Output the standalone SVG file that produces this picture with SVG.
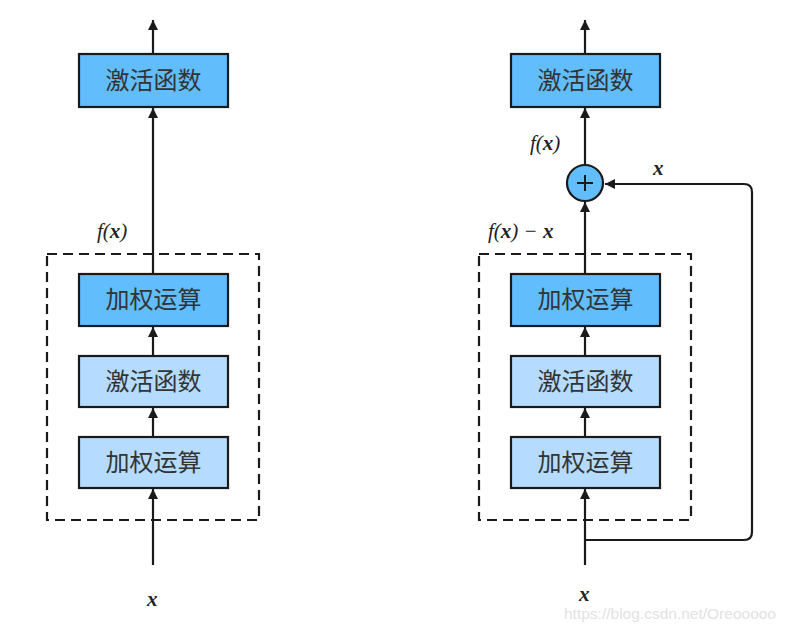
<svg xmlns="http://www.w3.org/2000/svg" width="788" height="626" viewBox="0 0 788 626">
<style>
.dark{fill:#62bdfd;stroke:#1a1a1a;stroke-width:2.2}
.light{fill:#b5dcff;stroke:#1a1a1a;stroke-width:2.2}
.lbl{font-family:"Noto Sans CJK SC","Noto Sans",sans-serif;font-size:24px;fill:#333;text-anchor:middle}
.math{font-family:"Liberation Serif","DejaVu Serif",serif;font-size:21px;font-style:italic;fill:#222}
.bx{font-weight:bold}
.edge{fill:none;stroke:#1a1a1a;stroke-width:2.2}
.dash{fill:none;stroke:#1a1a1a;stroke-width:2.2;stroke-dasharray:10 6}
</style>
<defs>
<marker id="ah" markerWidth="10" markerHeight="12" refX="10" refY="5" orient="auto" markerUnits="userSpaceOnUse" viewBox="0 0 10 10">
<path d="M0,0 L10,5 L0,10 Z" fill="#1a1a1a"/>
</marker>
</defs>
<rect width="788" height="626" fill="#fff"/>
<g id="dashed-left"><rect class="dash" x="47" y="254" width="212" height="266"/></g>
<g id="dashed-right"><rect class="dash" x="479" y="254" width="212" height="266"/></g>
<g id="connectors">
<line class="edge" x1="153" y1="54" x2="153" y2="20" marker-end="url(#ah)"/>
<line class="edge" x1="153" y1="274" x2="153" y2="108" marker-end="url(#ah)"/>
<line class="edge" x1="153" y1="356" x2="153" y2="327" marker-end="url(#ah)"/>
<line class="edge" x1="153" y1="437" x2="153" y2="408" marker-end="url(#ah)"/>
<line class="edge" x1="153" y1="565" x2="153" y2="489" marker-end="url(#ah)"/>
<line class="edge" x1="585" y1="54" x2="585" y2="20" marker-end="url(#ah)"/>
<line class="edge" x1="585" y1="165" x2="585" y2="108" marker-end="url(#ah)"/>
<line class="edge" x1="585" y1="274" x2="585" y2="202" marker-end="url(#ah)"/>
<line class="edge" x1="585" y1="356" x2="585" y2="327" marker-end="url(#ah)"/>
<line class="edge" x1="585" y1="437" x2="585" y2="408" marker-end="url(#ah)"/>
<line class="edge" x1="585" y1="565" x2="585" y2="489" marker-end="url(#ah)"/>
<path class="edge" d="M585,540 H744 Q752,540 752,532 V192 Q752,184 744,184 H605" marker-end="url(#ah)"/>
</g>
<g id="act-top-left"><rect class="dark" x="79" y="54" width="149" height="53"/><text class="lbl" x="153.5" y="89">激活函数</text></g>
<g id="w2-left"><rect class="dark" x="79" y="274" width="149" height="52"/><text class="lbl" x="153.5" y="308">加权运算</text></g>
<g id="act-left"><rect class="light" x="79" y="356" width="149" height="51"/><text class="lbl" x="153.5" y="390">激活函数</text></g>
<g id="w1-left"><rect class="light" x="79" y="437" width="149" height="51"/><text class="lbl" x="153.5" y="471">加权运算</text></g>
<g id="act-top-right"><rect class="dark" x="511" y="54" width="149" height="53"/><text class="lbl" x="585.5" y="89">激活函数</text></g>
<g id="w2-right"><rect class="dark" x="511" y="274" width="149" height="52"/><text class="lbl" x="585.5" y="308">加权运算</text></g>
<g id="act-right"><rect class="light" x="511" y="356" width="149" height="51"/><text class="lbl" x="585.5" y="390">激活函数</text></g>
<g id="w1-right"><rect class="light" x="511" y="437" width="149" height="51"/><text class="lbl" x="585.5" y="471">加权运算</text></g>
<g id="plus"><circle cx="585" cy="183" r="18" class="dark"/><path d="M577,183 H593 M585,175 V191" stroke="#1a1a1a" stroke-width="2"/></g>
<g id="labels">
<text class="math" x="97" y="238">f(<tspan class="bx">x</tspan>)</text>
<text class="math" x="530" y="150">f(<tspan class="bx">x</tspan>)</text>
<text class="math" x="488" y="238">f(<tspan class="bx">x</tspan>) − <tspan class="bx">x</tspan></text>
<text class="math bx" x="653" y="175">x</text>
<text class="math bx" x="147" y="606">x</text>
<text class="math bx" x="579" y="601">x</text>
</g>
<text x="564" y="619" font-family="Liberation Sans,Arial,sans-serif" font-size="15" textLength="212" lengthAdjust="spacingAndGlyphs" fill="#e2e2e2">https://blog.csdn.net/Oreooooo</text>
</svg>
